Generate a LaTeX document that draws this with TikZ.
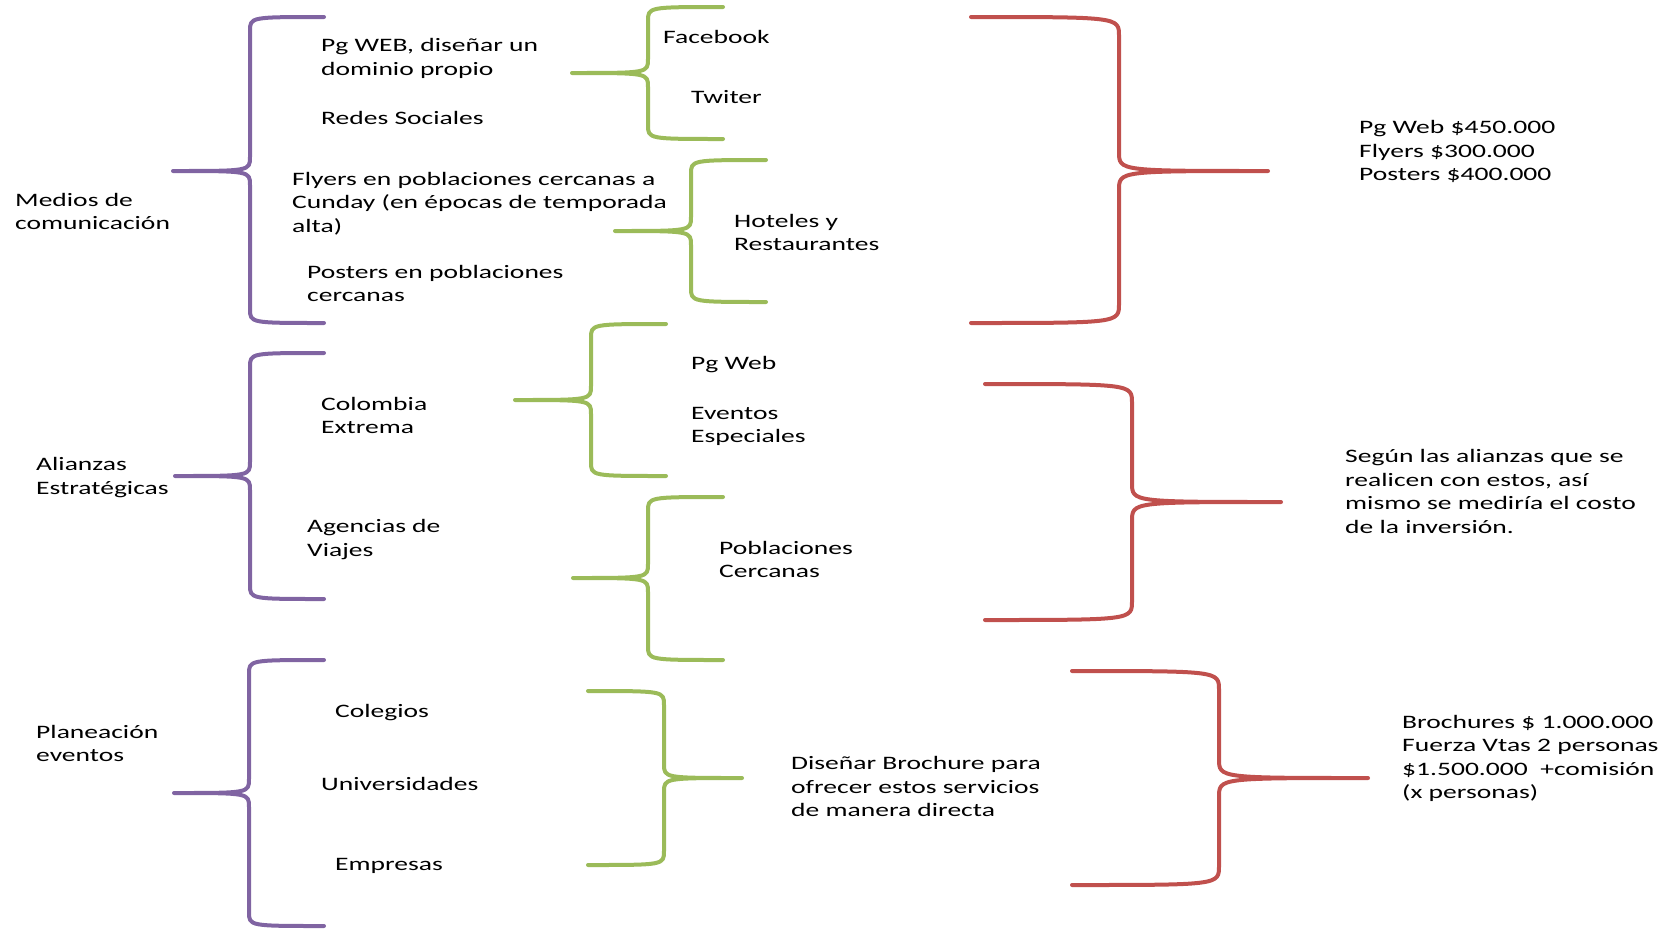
\documentclass[tikz,border=0pt]{standalone}
\usepackage{fontspec}
\setmainfont{Carlito}[FakeStretch=1.45]
\usetikzlibrary{calc}
\definecolor{purp}{HTML}{8064A2}
\definecolor{grn}{HTML}{9BBB59}
\definecolor{rd}{HTML}{C0504D}
% colour, tip x, spine x, end x, top, middle, bottom, corner
\newcommand{\brc}[8]{%
  \draw[brc,#1] (#4,#5) .. controls (#3,#5) .. (#3,{#5+#8}) -- (#3,{#6-#8})
    .. controls (#3,#6) .. (#2,#6) .. controls (#3,#6) .. (#3,{#6+#8})
    -- (#3,{#7-#8}) .. controls (#3,#7) .. (#4,#7);}
\begin{document}
\begin{tikzpicture}[x=1pt,y=-1pt,
  brc/.style={line width=4pt,line cap=round,line join=round},
  txt/.style={anchor=west,align=left,inner sep=0pt,yshift=-1.5pt,font=\fontsize{19}{23.5}\selectfont}]
\useasboundingbox (0,0) rectangle (1673,930);
\node[txt] (medios) at (15,210) {Medios de\\comunicación};
\node[txt] (pgweb) at (321,57) {Pg WEB, diseñar un\\dominio propio};
\node[txt] (redes) at (321,116) {Redes Sociales};
\node[txt] (flyers) at (292,202) {Flyers en poblaciones cercanas a\\Cunday (en épocas de temporada\\alta)};
\node[txt] (posters) at (307,282) {Posters en poblaciones\\cercanas};
\node[txt] (facebook) at (663,35) {Facebook};
\node[txt] (twiter) at (691,96) {Twiter};
\node[txt] (hoteles) at (734,231) {Hoteles y\\Restaurantes};
\node[txt] (costomedios) at (1359,150) {Pg Web \$450.000\\Flyers \$300.000\\Posters \$400.000};
\node[txt] (alianzas) at (36,476) {Alianzas\\Estratégicas};
\node[txt] (colombia) at (321,414) {Colombia\\Extrema};
\node[txt] (agencias) at (307,538) {Agencias de\\Viajes};
\node[txt] (pgwebal) at (691,363) {Pg Web};
\node[txt] (eventos) at (691,425) {Eventos\\Especiales};
\node[txt] (poblaciones) at (719,558) {Poblaciones\\Cercanas};
\node[txt] (costoalianzas) at (1345,490) {Según las alianzas que se\\realicen con estos, así\\mismo se mediría el costo\\de la inversión.};
\node[txt] (planeacion) at (36,742) {Planeación\\eventos};
\node[txt] (colegios) at (335,711) {Colegios};
\node[txt] (universidades) at (321,782) {Universidades};
\node[txt] (empresas) at (335,864) {Empresas};
\node[txt] (brochure) at (791,785) {Diseñar Brochure para\\ofrecer estos servicios\\de manera directa};
\node[txt] (costoeventos) at (1402,757) {Brochures \$ 1.000.000\\Fuerza Vtas 2 personas\\\$1.500.000\ \ +comisión\\(x personas)};
\brc{purp}{173}{250}{324}{17}{171}{323}{14}
\brc{purp}{175}{250}{324}{353}{476}{599}{14}
\brc{purp}{174}{249}{324}{660}{793}{926}{14}
\brc{grn}{572}{648}{723}{7}{73}{139}{14}
\brc{grn}{615}{691}{766}{160}{231}{302}{14}
\brc{grn}{515}{591}{666}{324}{400}{476}{14}
\brc{grn}{573}{648}{723}{497}{578}{660}{14}
\brc{grn}{742}{664}{588}{691}{778}{865}{14}
\brc{rd}{1268}{1119}{971}{17}{171}{323}{19}
\brc{rd}{1281}{1132}{985}{384}{502}{620}{19}
\brc{rd}{1368}{1219}{1072}{671}{778}{885}{19}
\end{tikzpicture}
\end{document}
